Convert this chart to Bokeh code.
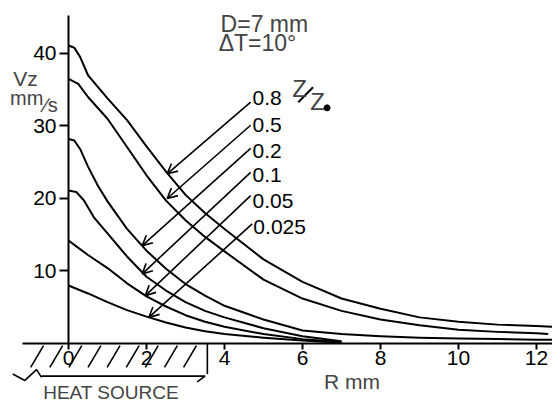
import numpy as np
from bokeh.plotting import figure
from bokeh.models import Range1d, LinearAxis, FixedTicker, Arrow, OpenHead, Label
from bokeh.core.properties import value
from bokeh.embed import file_html
from bokeh.resources import INLINE

FONT = "Liberation Sans"

# ---- data: R in mm, Vz in mm/s ----
r_08 = [0, 0.15, 0.3, 0.5, 1.0, 1.5, 2.0, 2.5, 3.0, 3.5, 4.0, 5.0, 6.0, 7.0, 8.0, 9.0, 10.0, 11.0, 12.0, 12.4]
v_08 = [41.1, 40.8, 39.5, 37.0, 33.8, 30.8, 27.2, 23.7, 20.5, 18.0, 15.8, 11.6, 8.5, 6.2, 4.8, 3.6, 3.0, 2.6, 2.4, 2.3]

r_05 = [0, 0.25, 0.5, 1.0, 1.5, 2.0, 2.5, 3.0, 3.5, 4.0, 5.0, 6.0, 7.0, 8.0, 9.0, 10.0, 11.0, 12.0, 12.3]
v_05 = [36.5, 35.8, 34.0, 31.0, 27.1, 23.2, 19.7, 17.0, 14.7, 12.7, 8.8, 6.2, 4.5, 3.3, 2.5, 1.9, 1.6, 1.4, 1.3]

r_02 = [0, 0.15, 0.3, 0.5, 0.75, 1.0, 1.5, 2.0, 2.5, 3.0, 3.5, 4.0, 5.0, 6.0, 7.0, 8.0, 9.0, 10.0, 11.0, 12.0, 12.4]
v_02 = [28.2, 28.0, 26.8, 24.4, 21.8, 19.6, 15.8, 12.8, 10.3, 8.2, 6.6, 5.2, 3.3, 1.8, 1.3, 1.0, 0.8, 0.7, 0.6, 0.5, 0.5]

r_01 = [0, 0.2, 0.4, 0.65, 1.0, 1.5, 2.0, 2.5, 3.0, 3.5, 4.0, 5.0, 6.0, 7.0]
v_01 = [21.1, 20.9, 19.7, 17.4, 15.2, 12.0, 9.2, 7.3, 5.7, 4.5, 3.6, 2.1, 1.0, 0.3]

r_005 = [0, 0.2, 0.5, 1.0, 1.5, 2.0, 2.5, 3.0, 3.5, 4.0, 5.0, 6.0, 7.0]
v_005 = [14.2, 13.4, 12.2, 10.4, 8.3, 6.5, 5.1, 3.9, 3.0, 2.3, 1.3, 0.6, 0.2]

r_0025 = [0, 0.5, 1.0, 1.5, 2.0, 2.5, 3.0, 3.5, 4.0, 5.0, 6.0, 7.0]
v_0025 = [8.0, 6.9, 5.7, 4.6, 3.7, 2.9, 2.2, 1.7, 1.3, 0.8, 0.4, 0.1]

series_labels = ["0.8", "0.5", "0.2", "0.1", "0.05", "0.025"]
# arrow: start near the label, tip on the curve (data units)
arrow_x_start = [4.67, 4.67, 4.67, 4.67, 4.67, 4.71]
arrow_y_start = [33.3, 30.1, 26.9, 23.6, 20.4, 16.5]
arrow_x_end = [2.53, 2.53, 1.89, 1.89, 1.97, 2.06]
arrow_y_end = [23.4, 20.0, 13.5, 9.6, 6.6, 3.6]
label_x = [4.72, 4.72, 4.72, 4.72, 4.72, 4.74]
label_y = [33.8, 30.1, 26.6, 23.2, 19.7, 16.0]

x_ticks = [0, 2, 4, 6, 8, 10, 12]
y_ticks = [10, 20, 30, 40]

p = figure(width=552, height=403,
           x_range=Range1d(-1.744, 12.41), y_range=Range1d(-8.28, 47.31),
           output_backend="svg", toolbar_location=None,
           x_axis_type=None, y_axis_type=None, min_border=0)
p.outline_line_color = None
p.background_fill_color = "white"

def style(ax):
    ax.axis_line_width = 2
    ax.axis_line_color = "black"
    ax.major_tick_line_width = 2
    ax.major_tick_line_color = "black"
    ax.major_tick_in = 0
    ax.minor_tick_line_color = None
    ax.major_label_text_font = FONT
    ax.major_label_text_font_size = "21px"
    ax.major_label_text_color = "black"

xaxis = LinearAxis(fixed_location=0, ticker=FixedTicker(ticks=x_ticks), bounds=(-1.18, 12.41))
style(xaxis)
xaxis.major_tick_out = 6
xaxis.major_label_standoff = 2
p.add_layout(xaxis, "below")

yaxis = LinearAxis(fixed_location=0, ticker=FixedTicker(ticks=y_ticks), bounds=(0, 45.2))
style(yaxis)
yaxis.major_tick_out = 9
yaxis.major_label_standoff = 3
p.add_layout(yaxis, "left")

for rr, vv in [(r_08, v_08), (r_05, v_05), (r_02, v_02), (r_01, v_01), (r_005, v_005), (r_0025, v_0025)]:
    p.line(rr, vv, line_color="black", line_width=2, line_join="round")

# arrows from labels to curves
for xs, ys, xe, ye in zip(arrow_x_start, arrow_y_start, arrow_x_end, arrow_y_end):
    p.add_layout(Arrow(x_start=xs, y_start=ys, x_end=xe, y_end=ye, line_width=1.6, line_color="black",
                       end=OpenHead(size=10, line_width=1.6, line_color="black")))

p.text(x=label_x, y=label_y, text=series_labels, text_font=value(FONT), text_font_size="21px",
       text_baseline="middle", text_align="left", text_color="black")

# Z/Z0 label
p.add_layout(Label(x=5.74, y=35.2, text="Z", text_font=FONT, text_font_size="24px", text_baseline="middle"))
p.segment(x0=[5.89], y0=[33.28], x1=[6.27], y1=[35.35], line_color="black", line_width=2)
p.add_layout(Label(x=6.2, y=33.4, text="Z", text_font=FONT, text_font_size="24px", text_baseline="middle"))
p.scatter([6.63], [32.5], size=6, color="black")

# parameters
p.add_layout(Label(x=3.9, y=44.0, text="D=7 mm", text_font=FONT, text_font_size="23px", text_baseline="middle"))
p.add_layout(Label(x=3.85, y=41.4, text="\u0394T=10\u00b0", text_font=FONT, text_font_size="23px", text_baseline="middle"))

# axis titles
p.add_layout(Label(x=-1.42, y=36.5, text="Vz", text_font=FONT, text_font_size="21px", text_baseline="middle"))
p.add_layout(Label(x=-1.5, y=33.9, text="mm", text_font=FONT, text_font_size="20px", text_baseline="middle"))
p.add_layout(Label(x=-0.62, y=32.9, text="\u2215s", text_font=FONT, text_font_size="20px", text_baseline="middle"))
p.add_layout(Label(x=6.55, y=-5.3, text="R mm", text_font=FONT, text_font_size="21px", text_baseline="middle"))

# heat source: hatching, frame and caption
hb = np.arange(-0.97, 3.0, 0.49)
p.segment(x0=hb, y0=-3.3, x1=hb + 0.33, y1=-0.3, line_color="black", line_width=1.6)
p.line([3.56, 3.56], [0, -4.2], line_color="black", line_width=1.6)
p.line([-1.43, -1.12, -0.82, -0.7, -0.68, 3.5, 3.3], [-4.2, -5.1, -3.6, -4.6, -4.5, -4.5, -5.3],
       line_color="black", line_width=1.6)
p.add_layout(Label(x=-0.65, y=-6.8, text="HEAT SOURCE", text_font=FONT, text_font_size="19px", text_baseline="middle"))

open("out.html", "w").write(file_html(p, INLINE))
